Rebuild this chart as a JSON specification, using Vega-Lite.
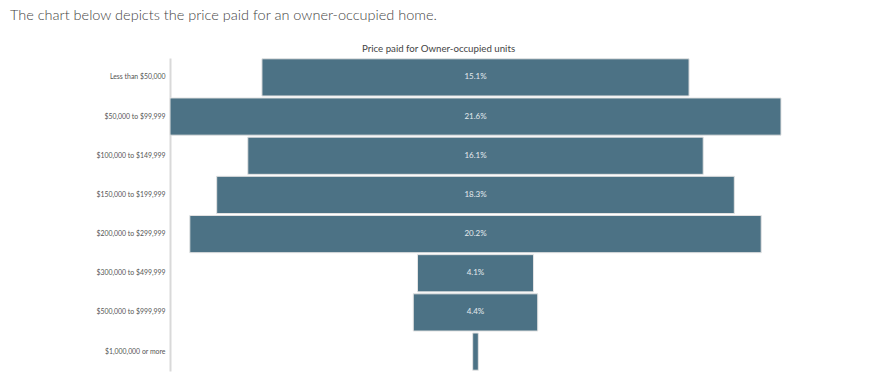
{
  "$schema": "https://vega.github.io/schema/vega-lite/v6.json",
  "autosize": {"type": "none"},
  "width": 611,
  "height": 313,
  "padding": {"left": 170, "top": 58, "right": 101, "bottom": 11},
  "background": "white",
  "config": {"view": {"stroke": null}},
  "title": {
    "text": "The chart below depicts the price paid for an owner-occupied home.",
    "anchor": "start",
    "frame": "group",
    "dx": -160,
    "font": "Lato",
    "fontSize": 14.5,
    "fontWeight": 300,
    "color": "#444444",
    "offset": 20
  },
  "data": {
    "values": [
      {"price": "Less than $50,000", "share": 0.151},
      {"price": "$50,000 to $99,999", "share": 0.216},
      {"price": "$100,000 to $149,999", "share": 0.161},
      {"price": "$150,000 to $199,999", "share": 0.183},
      {"price": "$200,000 to $299,999", "share": 0.202},
      {"price": "$300,000 to $499,999", "share": 0.041},
      {"price": "$500,000 to $999,999", "share": 0.044},
      {"price": "$1,000,000 or more", "share": 0.002}
    ]
  },
  "encoding": {
    "y": {
      "field": "price",
      "type": "nominal",
      "sort": null,
      "scale": {"paddingInner": 0.05, "paddingOuter": 0.02},
      "axis": {
        "title": null,
        "ticks": false,
        "labelPadding": 5,
        "labelFont": "Lato",
        "labelFontSize": 6.9,
        "labelColor": "#555555",
        "domainColor": "#d9d9d9",
        "domainWidth": 2
      }
    }
  },
  "layer": [
    {
      "mark": {"type": "bar", "color": "#4c7285", "stroke": "#e3e3e3", "strokeWidth": 1},
      "encoding": {
        "x": {
          "field": "share",
          "type": "quantitative",
          "stack": "center",
          "scale": {"domain": [0, 0.216], "nice": false, "zero": false},
          "axis": {
            "orient": "top",
            "title": "Price paid for Owner-occupied units",
            "titleFont": "Lato",
            "titleFontSize": 9.7,
            "titleFontWeight": 400,
            "titleColor": "#444444",
            "titleX": 268,
            "titleY": -7,
            "titleAlign": "center",
            "titleBaseline": "alphabetic",
            "labels": false,
            "ticks": false,
            "domain": false,
            "grid": false
          }
        }
      }
    },
    {
      "transform": [{"filter": "datum.share >= 0.01"}],
      "mark": {"type": "text", "font": "Lato", "fontSize": 8, "color": "#e4eaee"},
      "encoding": {
        "x": {"datum": 0.108, "type": "quantitative"},
        "text": {"field": "share", "type": "quantitative", "format": ".1%"}
      }
    }
  ]
}
